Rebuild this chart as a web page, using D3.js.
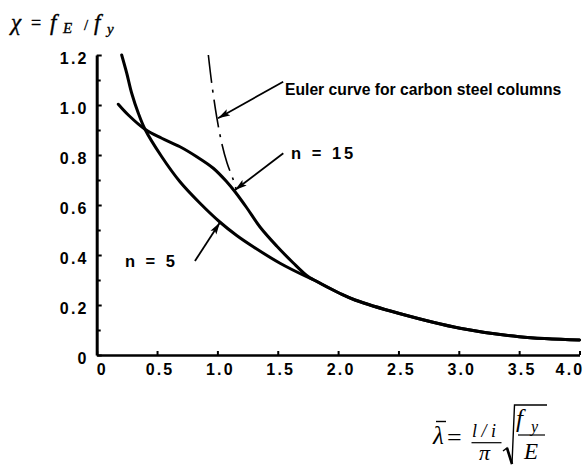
<!DOCTYPE html>
<html>
<head>
<meta charset="utf-8">
<script src="https://cdn.jsdelivr.net/npm/d3@7"></script>
<style>
  html, body { margin: 0; padding: 0; background: #fff; }
  svg { display: block; }
</style>
</head>
<body>
<svg id="chart" width="585" height="466"></svg>
<script>
// Axis ticks
const xTicks = [0, 0.5, 1.0, 1.5, 2.0, 2.5, 3.0, 3.5, 4.0];
const xTickLabels = ["0", "0.5", "1.0", "1.5", "2.0", "2.5", "3.0", "3.5", "4.0"];
const yTicks = [0, 0.2, 0.4, 0.6, 0.8, 1.0, 1.2];
const yTickLabels = ["0", "0.2", "0.4", "0.6", "0.8", "1.0", "1.2"];
const yMinorTicks = [0.1, 0.3, 0.5, 0.7, 0.9, 1.1];

// Buckling curve, n = 5
const lambdaN5 = [0.207, 0.249, 0.29, 0.345, 0.40, 0.539, 0.69, 0.856, 1.02, 1.16, 1.297, 1.519, 1.74, 1.80, 2.016, 2.14, 2.50, 3.01, 3.50, 4.0];
const chiN5    = [1.20, 1.127, 1.047, 0.967, 0.903, 0.793, 0.693, 0.607, 0.532, 0.478, 0.433, 0.367, 0.313, 0.30, 0.246, 0.22, 0.167, 0.107, 0.073, 0.06];

// Buckling curve, n = 15
const lambdaN15 = [0.179, 0.262, 0.40, 0.539, 0.69, 0.829, 0.966, 1.077, 1.146, 1.243, 1.353, 1.491, 1.629, 1.74, 1.80, 2.016, 2.14, 2.50, 3.01, 3.50, 4.0];
const chiN15    = [1.003, 0.96, 0.903, 0.867, 0.833, 0.793, 0.747, 0.693, 0.653, 0.589, 0.512, 0.436, 0.368, 0.318, 0.30, 0.246, 0.22, 0.167, 0.107, 0.073, 0.06];

// Euler curve for carbon steel columns
const lambdaEuler = [0.925, 0.953, 0.994, 1.036, 1.08, 1.132, 1.154];
const chiEuler    = [1.20, 1.087, 0.953, 0.847, 0.768, 0.70, 0.665];

// Annotation labels and arrows (tail -> tip, in data units)
const annoLabels = ["Euler curve for carbon steel columns", "n = 15", "n = 5"];
const annoTextAt = [[1.56, 1.04], [1.61, 0.783], [0.234, 0.351]];
const annoTail   = [[1.545, 1.093], [1.546, 0.807], [0.814, 0.376]];
const annoTip    = [[1.005, 0.947], [1.146, 0.66], [1.021, 0.53]];

const svg = d3.select("#chart");

const x = d3.scaleLinear().domain([0, 4]).range([96.7, 579.5]);
const y = d3.scaleLinear().domain([0, 1.2]).range([355, 55]);

const sans = "'Liberation Sans', Arial, Helvetica, sans-serif";
const serif = "'Liberation Serif', 'Times New Roman', serif";

// Arrowhead
svg.append("defs").append("marker")
  .attr("id", "head")
  .attr("markerUnits", "userSpaceOnUse")
  .attr("markerWidth", 14).attr("markerHeight", 8)
  .attr("refX", 12).attr("refY", 4)
  .attr("orient", "auto")
  .append("path")
  .attr("d", "M0,0.5 L12,4 L0,7.5 L2.5,4 Z")
  .attr("fill", "#000");

const tickFont = sel => sel
  .attr("fill", "#000")
  .style("font-family", sans).style("font-size", "16px").style("font-weight", "bold")
  .style("letter-spacing", "2.2px");

// X axis
const xAxis = svg.append("g")
  .attr("transform", `translate(0,${y(0)})`)
  .call(d3.axisBottom(x)
    .tickValues(xTicks)
    .tickFormat((d, i) => xTickLabels[i])
    .tickSizeInner(-4).tickSizeOuter(0).tickPadding(9));
xAxis.select(".domain").attr("stroke", "#000").attr("stroke-width", 2.4);
xAxis.selectAll(".tick line").attr("stroke", "#000").attr("stroke-width", 2);
xAxis.selectAll(".tick text").call(tickFont)
  .attr("dx", (d, i) => i === 0 ? 5 : (i === xTicks.length - 1 ? -10 : 2.5));

// Y axis
const yAxis = svg.append("g")
  .attr("transform", `translate(${x(0)},0)`)
  .call(d3.axisLeft(y)
    .tickValues(yTicks)
    .tickFormat((d, i) => yTickLabels[i])
    .tickSizeInner(-5).tickSizeOuter(0).tickPadding(8));
yAxis.select(".domain").attr("stroke", "#000").attr("stroke-width", 3);
yAxis.selectAll(".tick line").attr("stroke", "#000").attr("stroke-width", 2);
yAxis.selectAll(".tick text").call(tickFont).attr("dy", "0.52em");

// Minor y ticks
const yMinor = svg.append("g")
  .attr("transform", `translate(${x(0)},0)`)
  .call(d3.axisLeft(y).tickValues(yMinorTicks).tickFormat("").tickSizeInner(-4).tickSizeOuter(0));
yMinor.select(".domain").remove();
yMinor.selectAll(".tick line").attr("stroke", "#000").attr("stroke-width", 2);

// Curves
const line = d3.line()
  .x(d => x(d[0]))
  .y(d => y(d[1]))
  .curve(d3.curveCatmullRom.alpha(0.5));

const n5 = lambdaN5.map((l, i) => [l, chiN5[i]]);
const n15 = lambdaN15.map((l, i) => [l, chiN15[i]]);
const euler = lambdaEuler.map((l, i) => [l, chiEuler[i]]);

[n15, n5].forEach(series => {
  svg.append("path").datum(series)
    .attr("d", line)
    .attr("fill", "none").attr("stroke", "#000").attr("stroke-width", 3)
    .attr("stroke-linecap", "round").attr("stroke-linejoin", "round");
});

svg.append("path").datum(euler)
  .attr("d", line)
  .attr("fill", "none").attr("stroke", "#000").attr("stroke-width", 1.6)
  .attr("stroke-dasharray", "28,7,3,7");

// Annotation arrows
annoTail.forEach((t, i) => {
  svg.append("line")
    .attr("x1", x(t[0])).attr("y1", y(t[1]))
    .attr("x2", x(annoTip[i][0])).attr("y2", y(annoTip[i][1]))
    .attr("stroke", "#000").attr("stroke-width", 1.8)
    .attr("marker-end", "url(#head)");
});

// Annotation labels
const annoSizes = ["15.7px", "16.5px", "16.5px"];
const annoSpacing = ["0px", "3px", "3px"];
annoLabels.forEach((s, i) => {
  svg.append("text")
    .attr("x", x(annoTextAt[i][0])).attr("y", y(annoTextAt[i][1]))
    .style("font-family", sans).style("font-size", annoSizes[i])
    .style("font-weight", "bold").style("letter-spacing", annoSpacing[i])
    .attr("fill", "#000")
    .text(s);
});

// Y axis title: chi = f_E / f_y
const yTitle = svg.append("text")
  .attr("y", 30)
  .style("font-family", serif).style("font-size", "23px")
  .attr("fill", "#000").attr("stroke", "#000").attr("stroke-width", 0.35);
yTitle.append("tspan").attr("x", 11).style("font-style", "italic").text("χ");
yTitle.append("tspan").attr("x", 31).attr("dy", -1).style("font-size", "18px").text("=");
yTitle.append("tspan").attr("x", 50).attr("dy", 1).style("font-style", "italic").text("f");
yTitle.append("tspan").attr("x", 63).attr("dy", 3).style("font-style", "italic").style("font-size", "15px").text("E");
yTitle.append("tspan").attr("x", 84).attr("dy", -3).style("font-size", "15px").text("/");
yTitle.append("tspan").attr("x", 94).style("font-style", "italic").text("f");
yTitle.append("tspan").attr("x", 107).attr("dy", 4).style("font-style", "italic").style("font-size", "15px").text("y");

// X axis title: lambda-bar = (l/i)/pi * sqrt(f_y / E)
const xt = svg.append("g").attr("fill", "#000").style("font-family", serif);
xt.append("text").attr("x", 433).attr("y", 444)
  .style("font-size", "25px").style("font-style", "italic").text("λ");
xt.append("line").attr("x1", 436).attr("x2", 446).attr("y1", 421.5).attr("y2", 421.5)
  .attr("stroke", "#000").attr("stroke-width", 1.4);
xt.append("text").attr("x", 447).attr("y", 446)
  .style("font-size", "26px").text("=");
xt.append("text").attr("x", 472).attr("y", 436.5)
  .style("font-size", "18px").style("font-style", "italic").text("l / i");
xt.append("line").attr("x1", 471.5).attr("x2", 501.5).attr("y1", 442.7).attr("y2", 442.7)
  .attr("stroke", "#000").attr("stroke-width", 1.2);
xt.append("text").attr("x", 479).attr("y", 460)
  .style("font-size", "22px").style("font-style", "italic").text("π");
xt.append("path")
  .attr("d", "M503,451 L507,448 L512,464 L514.5,405 L547,405")
  .attr("fill", "none").attr("stroke", "#000").attr("stroke-width", 1.4)
  .attr("stroke-linejoin", "miter");
xt.append("path")
  .attr("d", "M507,448 L512,464")
  .attr("fill", "none").attr("stroke", "#000").attr("stroke-width", 2.6);
xt.append("text").attr("x", 516).attr("y", 427)
  .style("font-size", "25px").style("font-style", "italic").text("f");
xt.append("text").attr("x", 531).attr("y", 432)
  .style("font-size", "16px").style("font-style", "italic").text("y");
xt.append("line").attr("x1", 518).attr("x2", 545).attr("y1", 435).attr("y2", 435)
  .attr("stroke", "#000").attr("stroke-width", 1.2);
xt.append("text").attr("x", 524).attr("y", 459)
  .style("font-size", "23px").style("font-style", "italic").text("E");
</script>
</body>
</html>
